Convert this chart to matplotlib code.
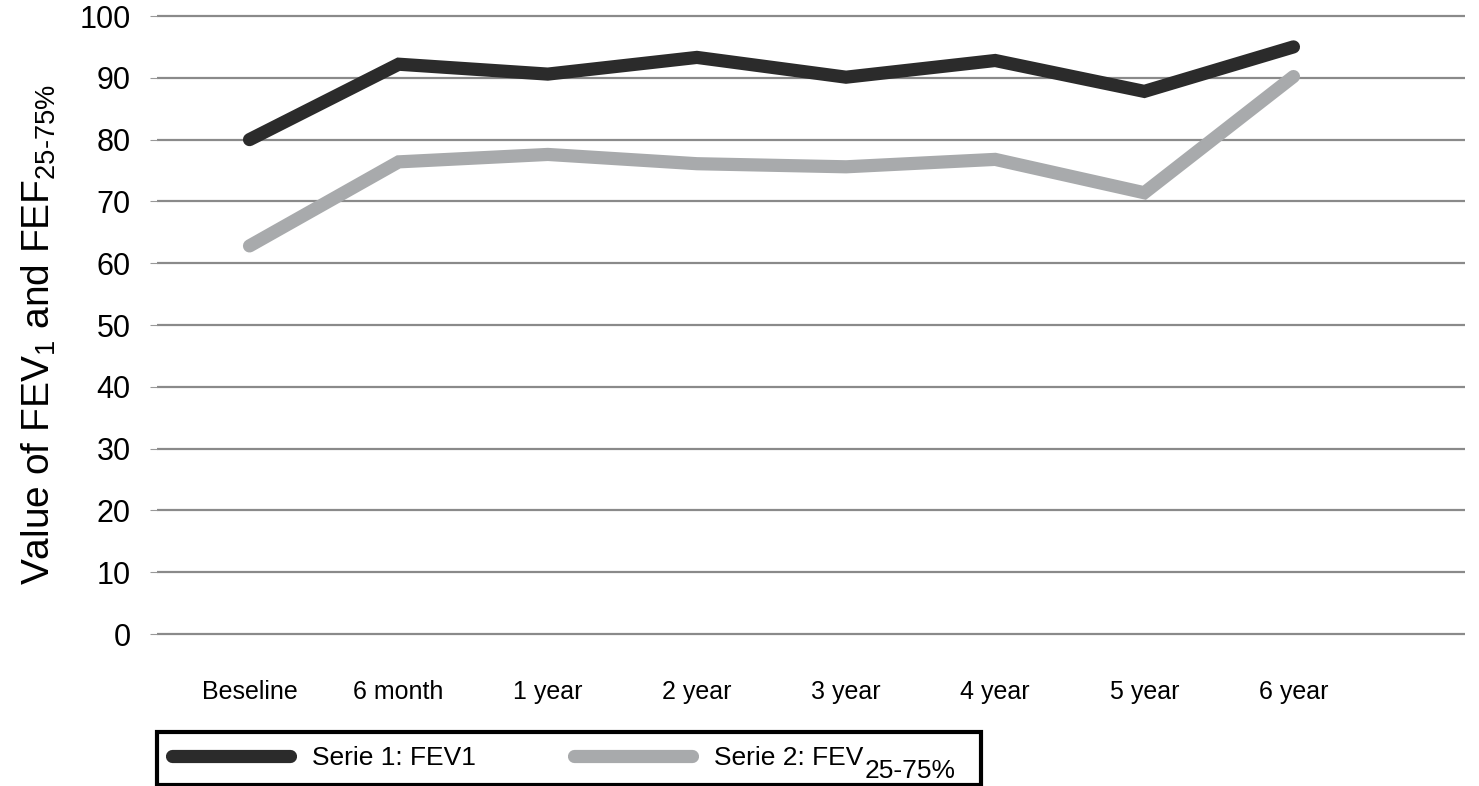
import matplotlib
matplotlib.use("Agg")
import matplotlib.pyplot as plt

plt.rcParams['font.family'] = ['Liberation Sans', 'DejaVu Sans']
plt.rcParams['mathtext.fontset'] = 'custom'
plt.rcParams['mathtext.rm'] = 'Liberation Sans'
plt.rcParams['mathtext.it'] = 'Liberation Sans'

# Data
timepoints = ["Beseline", "6 month", "1 year", "2 year", "3 year", "4 year", "5 year", "6 year"]
fev1 = [80.0, 92.2, 90.6, 93.3, 90.1, 92.8, 87.8, 95.0]
fef = [62.8, 76.4, 77.6, 76.1, 75.6, 76.8, 71.4, 90.2]
yticks = [0, 10, 20, 30, 40, 50, 60, 70, 80, 90, 100]
label1 = "Serie 1: FEV1"
label2 = "Serie 2: FEV"
label2_sub = "25-75%"

fig = plt.figure(figsize=(14.79, 7.86), dpi=100)
ax = fig.add_axes([0.1062, 0.1855, 0.8843, 0.802])

x = list(range(len(timepoints)))
ax.plot(x, fev1, color="#2b2b2b", lw=9.5, solid_capstyle="round",
        solid_joinstyle="miter", label=label1, zorder=3)
# trailing spaces keep room in the legend box for the full-size subscript
ax.plot(x, fef, color="#a8aaac", lw=9.5, solid_capstyle="round",
        solid_joinstyle="miter", label=label2 + " " * 14, zorder=2)

ax.set_xlim(-0.62, 8.15)
ax.set_ylim(-1, 101)
ax.set_yticks(yticks)
ax.set_xticks(x)
ax.set_xticklabels(timepoints, fontsize=18)
ax.tick_params(axis="x", length=0, pad=29)
ax.tick_params(axis="y", labelsize=22, length=5, color="#999999", pad=14)
ax.yaxis.grid(True, color="#8a8a8a", lw=1.6)
ax.set_axisbelow(True)
for s in ax.spines.values():
    s.set_visible(False)

ax.set_ylabel(r"Value of FEV$_\mathregular{1}$ and FEF$_{\mathregular{25\text{-}75\%}}$",
              fontsize=28)
ax.yaxis.set_label_coords(-0.076, 0.484)

leg = fig.legend(loc="lower left", ncol=2,
                 bbox_to_anchor=(157 / 1479, 1 / 786),
                 fontsize=19, handlelength=4.5, handletextpad=0.83,
                 columnspacing=3.7, fancybox=False, framealpha=1,
                 borderaxespad=0, borderpad=0.55)
leg.get_frame().set_edgecolor("black")
leg.get_frame().set_linewidth(3)

# subscript of the second legend entry, drawn next to "FEV"
fig.canvas.draw()
renderer = fig.canvas.get_renderer()
t2 = leg.get_texts()[1]
bb = t2.get_window_extent(renderer)
w, h, d = renderer.get_text_width_height_descent(label2, t2.get_fontproperties(), ismath=False)
fig.text((bb.x0 + w + 1) / fig.bbox.width, (bb.y0 + d - 8) / fig.bbox.height,
         label2_sub, fontsize=19, ha="left", va="baseline", zorder=10)

fig.savefig("out.png", dpi=100)
